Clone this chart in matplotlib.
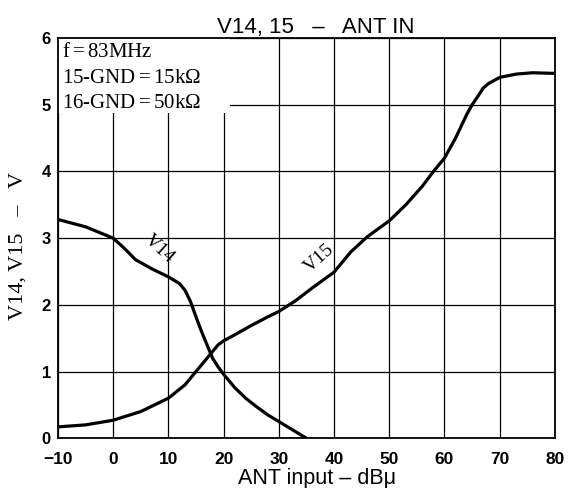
import matplotlib.pyplot as plt

# data
v14_x = [-10, -5, 0, 2, 4, 7, 10, 12, 13, 14, 15, 16, 17, 18, 19, 20, 22, 24, 26, 28, 30, 32, 34, 35]
v14_y = [3.28, 3.17, 3.0, 2.85, 2.68, 2.54, 2.42, 2.32, 2.22, 2.05, 1.82, 1.6, 1.4, 1.2, 1.07, 0.96,
         0.76, 0.6, 0.47, 0.35, 0.25, 0.15, 0.05, 0.0]

v15_x = [-10, -5, 0, 5, 10, 13, 15, 17, 18, 19, 20, 22, 25, 28, 30, 33, 36, 40, 43, 46, 50, 53, 56,
         58, 60, 62, 64, 65, 66, 67, 68, 70, 73, 76, 80]
v15_y = [0.17, 0.2, 0.27, 0.4, 0.6, 0.8, 1.0, 1.2, 1.3, 1.4, 1.46, 1.55, 1.69, 1.82, 1.9, 2.06, 2.25,
         2.49, 2.79, 3.02, 3.26, 3.5, 3.78, 4.0, 4.2, 4.5, 4.85, 5.0, 5.12, 5.25, 5.32, 5.41, 5.46,
         5.48, 5.47]

x_ticks = [-10, 0, 10, 20, 30, 40, 50, 60, 70, 80]
y_ticks = [0, 1, 2, 3, 4, 5, 6]
notes = ['f$=$83MHz', '15-GND$=$15k$\\Omega$', '16-GND$=$50k$\\Omega$']

plt.rcParams['mathtext.fontset'] = 'custom'
plt.rcParams['mathtext.rm'] = 'Liberation Serif'
plt.rcParams['mathtext.it'] = 'Liberation Serif'

fig = plt.figure(figsize=(5.68, 4.88), dpi=100)
ax = fig.add_axes([0.102, 0.102, 0.875, 0.82])

ax.plot(v14_x, v14_y, color='black', lw=2.3, solid_capstyle='butt', zorder=3)
ax.plot(v15_x, v15_y, color='black', lw=2.3, solid_capstyle='butt', zorder=3)

ax.set_xlim(-10, 80)
ax.set_ylim(0, 6)
ax.set_xticks(x_ticks)
ax.set_yticks(y_ticks)
ax.set_xticklabels([('\u2212' + str(-t)) if t < 0 else str(t) for t in x_ticks])
ax.grid(True, color='black', lw=0.9)
ax.tick_params(axis='x', length=0, pad=10, labelsize=12.5)
ax.tick_params(axis='y', length=0, pad=5, labelsize=12)
for lab in ax.get_xticklabels() + ax.get_yticklabels():
    lab.set_fontweight('bold')
    lab.set_family('Liberation Sans')
for s in ax.spines.values():
    s.set_linewidth(1.3)

ax.set_title('V14, 15   \u2013   ANT IN', fontsize=16, family='Liberation Sans', pad=3, x=0.518)
ax.set_xlabel('ANT input \u2013 dB\u03bc', fontsize=15.5, family='Liberation Sans')
ax.xaxis.set_label_coords(0.521, -0.074)
ax.set_ylabel('V14, V15   \u2013   V', fontsize=16, family='Liberation Serif')
ax.yaxis.set_label_coords(-0.062, 0.48)

# white box behind the notes
ax.fill_between([-10, 21.2], [4.88, 4.88], [6, 6], color='white', zorder=2, lw=0)
for i, t in enumerate(notes):
    ax.text(-9.3, 5.92 - i * 0.38, t, fontsize=15, family='Liberation Serif',
            va='top', ha='left', zorder=4)

ax.text(8.3, 2.84, 'V14', fontsize=14, family='Liberation Serif', rotation=-42,
        ha='center', va='center', zorder=4)
ax.text(37.3, 2.69, 'V15', fontsize=14, family='Liberation Serif', rotation=42,
        ha='center', va='center', zorder=4)

fig.savefig('out.png', dpi=100)
